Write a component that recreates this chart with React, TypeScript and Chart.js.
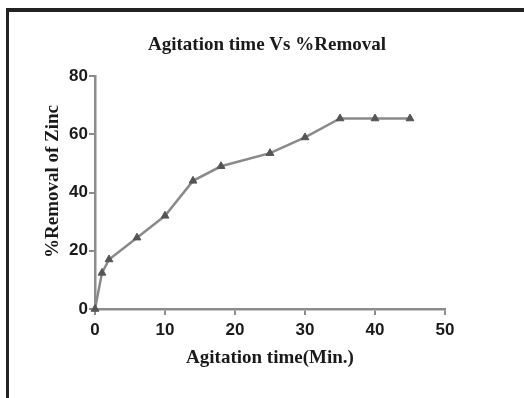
import React, { useEffect, useRef } from "react";
import { Chart, registerables } from "chart.js";

Chart.register(...registerables);

// ---- data ----
const times = [0, 1, 2, 6, 10, 14, 18, 25, 30, 35, 40, 45];
const removal = [0, 12.4, 17.0, 24.5, 32.0, 44.0, 49.0, 53.5, 58.9, 65.4, 65.4, 65.4];
const xTicks = [0, 10, 20, 30, 40, 50];
const yTicks = [0, 20, 40, 60, 80];
const chartTitle = "Agitation time Vs %Removal";
const xTitle = "Agitation time(Min.)";
const yTitle = "%Removal of Zinc";

const AXIS = "#8c8c8c";
const LINE = "#8a8a8a";
const MARK = "#555555";
const TEXT = "#1a1a1a";
const SERIF = "'Liberation Serif', 'Times New Roman', serif";
const SANS = "'Liberation Sans', Arial, sans-serif";

const textPlugin = {
  id: "textPlugin",
  afterDraw(chart: any) {
    const ctx = chart.ctx;
    ctx.save();
    ctx.fillStyle = TEXT;
    ctx.font = `bold 19px ${SERIF}`;
    ctx.textAlign = "center";
    ctx.textBaseline = "alphabetic";
    ctx.fillText(chartTitle, 267, 50);
    ctx.translate(58, 181.5);
    ctx.rotate(-Math.PI / 2);
    ctx.fillText(yTitle, 0, 0);
    ctx.restore();
  },
};

export default function App() {
  const ref = useRef<HTMLCanvasElement | null>(null);

  useEffect(() => {
    if (!ref.current) return;
    const chart = new Chart(ref.current, {
      type: "line",
      data: {
        datasets: [
          {
            label: "removal",
            data: times.map((t, i) => ({ x: t, y: removal[i] })),
            borderColor: LINE,
            borderWidth: 2.5,
            pointStyle: "triangle",
            pointRadius: 4.5,
            pointBackgroundColor: MARK,
            pointBorderColor: MARK,
            pointBorderWidth: 1,
            tension: 0,
            clip: false as any,
          },
        ],
      },
      options: {
        animation: false,
        responsive: false,
        events: [],
        layout: { padding: { left: 30, right: 79, top: 76, bottom: 20 } },
        plugins: {
          legend: { display: false },
          title: { display: false },
          tooltip: { enabled: false },
        },
        scales: {
          x: {
            type: "linear",
            min: xTicks[0],
            max: xTicks[xTicks.length - 1],
            afterFit: (s: any) => {
              s.height = 69;
            },
            afterBuildTicks: (s: any) => {
              s.ticks = xTicks.map((v) => ({ value: v }));
            },
            grid: {
              display: true,
              drawOnChartArea: false,
              drawTicks: true,
              tickLength: 6,
              color: AXIS,
              lineWidth: 2,
            },
            border: { display: true, color: AXIS, width: 2.5 },
            ticks: {
              color: TEXT,
              padding: 5,
              font: { family: SANS, size: 17, weight: "bold" },
            },
            title: {
              display: true,
              text: xTitle,
              color: TEXT,
              font: { family: SERIF, size: 19, weight: "bold" },
              padding: { top: 0, bottom: 9 },
            },
          },
          y: {
            type: "linear",
            min: yTicks[0],
            max: yTicks[yTicks.length - 1],
            afterFit: (s: any) => {
              s.width = 65;
            },
            afterBuildTicks: (s: any) => {
              s.ticks = yTicks.map((v) => ({ value: v }));
            },
            grid: {
              display: true,
              drawOnChartArea: false,
              drawTicks: true,
              tickLength: 6,
              color: AXIS,
              lineWidth: 2,
            },
            border: { display: true, color: AXIS, width: 2.5 },
            ticks: {
              color: TEXT,
              padding: 1,
              font: { family: SANS, size: 17, weight: "bold" },
            },
          },
        },
      },
      plugins: [textPlugin],
    });
    return () => chart.destroy();
  }, []);

  return (
    <div style={{ position: "absolute", left: 0, top: 0, width: 524, height: 398, background: "#fff" }}>
      <canvas ref={ref} width={524} height={398} style={{ display: "block" }} />
      <div style={{ position: "absolute", left: 6, top: 8, width: 518, height: 3.5, background: "#222" }} />
      <div style={{ position: "absolute", left: 6, top: 8, width: 3, height: 390, background: "#222" }} />
    </div>
  );
}
